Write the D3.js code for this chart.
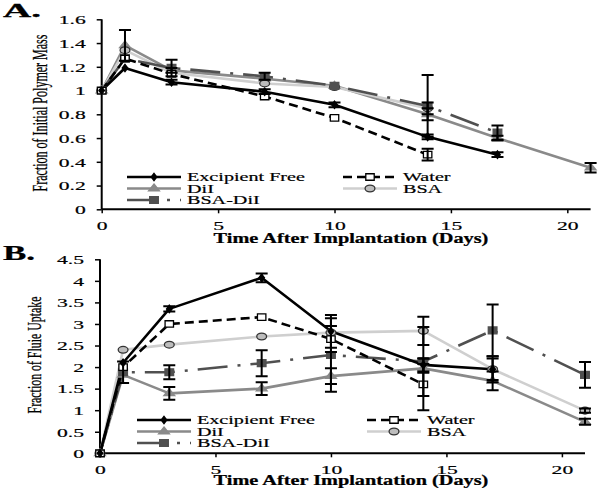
<!DOCTYPE html>
<html><head><meta charset="utf-8">
<script src="https://cdn.jsdelivr.net/npm/d3@7"></script>
<style>body{margin:0;background:#fff}svg{display:block}text{font-family:"Liberation Serif","Times New Roman",serif;fill:#000}</style>
</head><body><svg id="c" width="600" height="488"></svg>
<script>
// ---------- DATA ----------
const seriesNames = ["Excipient Free","Water","DiI","BSA","BSA-DiI"];
const xTicks = [0,5,10,15,20];
const yTicksA = [0,0.2,0.4,0.6,0.8,1,1.2,1.4,1.6];
const yTicksB = [0,0.5,1,1.5,2,2.5,3,3.5,4,4.5];

// Panel A: Fraction of Initial Polymer Mass
const aDaysEF = [0,1,3,7,10,14,17];
const aValEF  = [1.0,1.19,1.07,0.99,0.88,0.61,0.46];
const aErrEF  = [0,0,0.02,0.02,0.02,0.02,0.02];
const aDaysW  = [0,1,3,7,10,14];
const aValW   = [1.0,1.27,1.14,0.95,0.77,0.46];
const aErrW   = [0,0,0,0,0,0.05];
const aDaysD  = [0,1,3,7,10,14,17,21];
const aValD   = [1.0,1.38,1.17,1.10,1.04,0.80,0.60,0.35];
const aErrD   = [0,0.13,0.02,0,0,0.05,0.02,0.04];
const aDaysB  = [0,1,3,7,10,14];
const aValB   = [1.0,1.34,1.15,1.06,1.03,0.85];
const aErrB   = [0,0,0,0,0,0.05];
const aDaysBD = [0,1,3,7,10,14,17];
const aValBD  = [1.0,1.27,1.19,1.12,1.04,0.87,0.645];
const aErrBD  = [0,0,0.07,0.03,0,0.26,0.06];

// Panel B: Fraction of Fluie Uptake
const bDaysEF = [0,1,3,7,10,14,17];
const bValEF  = [0,2.1,3.35,4.07,2.83,2.05,1.95];
const bErrEF  = [0,0,0.06,0.1,0.38,0.15,0.25];
const bDaysW  = [0,1,3,7,10,14];
const bValW   = [0,2.0,3.0,3.16,2.65,1.6];
const bErrW   = [0,0,0,0,0.3,0.6];
const bDaysD  = [0,1,3,7,10,14,17,21];
const bValD   = [0,1.82,1.39,1.5,1.79,1.97,1.68,0.73];
const bErrD   = [0,0,0.15,0.15,0.18,0.1,0.22,0.07];
const bDaysB  = [0,1,3,7,10,14,17,21];
const bValB   = [0,2.4,2.52,2.71,2.8,2.84,1.95,0.99];
const bErrB   = [0,0,0,0,0,0.33,0.3,0.05];
const bDaysBD = [0,1,3,7,10,14,17,21];
const bValBD  = [0,1.88,1.88,2.09,2.28,2.13,2.85,1.82];
const bErrBD  = [0,0.25,0.16,0.3,0.85,0.8,0.6,0.3];

// ---------- STYLES ----------
const style = {
  "Excipient Free": {color:"#000", dash:null, marker:"diamond", fill:"#000", stroke:"#000", size:16, sx:1.3},
  "Water":          {color:"#000", dash:"9,5", marker:"square", fill:"#fff", stroke:"#000", size:42, sx:1.3},
  "DiI":            {color:"#8a8a8a", dash:null, marker:"triangle", fill:"#8a8a8a", stroke:"#8a8a8a", size:26, sx:1.4},
  "BSA":            {color:"#cfcfcf", dash:null, marker:"circle", fill:"#bdbdbd", stroke:"#333", size:36, sx:1.45},
  "BSA-DiI":        {color:"#505050", dash:"30,10,3,10", marker:"square", fill:"#505050", stroke:"#505050", size:48, sx:1.25}
};
const symType = {diamond:d3.symbolDiamond, square:d3.symbolSquare, triangle:d3.symbolTriangle, circle:d3.symbolCircle};
const drawOrder = ["DiI","BSA","BSA-DiI","Water","Excipient Free"];

const svg = d3.select("#c");
const TS = 1.6;  // horizontal stretch of tick labels
const LS = 1.55; // horizontal stretch of legend text

function fitText(g, str, opts){
  const t = g.append("text").attr("x",0).attr("y",0).attr("font-size",opts.size)
    .attr("font-weight",opts.weight||"normal").attr("text-anchor",opts.anchor||"start")
    .attr("stroke","#000").attr("stroke-width",opts.sw||0.25).text(str);
  const w = t.node().getComputedTextLength();
  const s = opts.len / w;
  t.attr("transform",`translate(${opts.x},${opts.y}) rotate(${opts.rot||0}) scale(${s},1)`);
  return t;
}

function panel(cfg){
  const g = svg.append("g");
  const x = d3.scaleLinear().domain([0,21]).range(cfg.xr);
  const y = d3.scaleLinear().domain(cfg.yd).range(cfg.yr);

  const ya = g.append("g").attr("transform",`translate(${cfg.xr[0]},0)`)
    .call(d3.axisLeft(y).tickValues(cfg.yTicks).tickSize(5).tickPadding(11)
      .tickFormat(d=>String(+d.toFixed(1))));
  const xa = g.append("g").attr("transform",`translate(0,${cfg.yr[0]})`)
    .call(d3.axisBottom(x).tickValues(xTicks).tickSize(4).tickPadding(7));
  [ya,xa].forEach(a=>{
    a.select(".domain").attr("stroke","#000").attr("stroke-width",2);
    a.selectAll(".tick line").attr("stroke","#000").attr("stroke-width",1.5);
    a.selectAll(".tick text").attr("font-size",13.5).attr("font-family","Liberation Serif").attr("fill","#000")
      .attr("stroke","#000").attr("stroke-width",0.2)
      .each(function(){const t=d3.select(this);const xx=+t.attr("x")||0;t.attr("x",xx/TS).attr("transform",`scale(${TS},1)`);});
  });
  xa.select(".domain").attr("d",`M${cfg.xr[0]},0H${cfg.xr[1]}`);
  ya.select(".domain").attr("d",`M0,${cfg.yr[0]}V${cfg.yr[1]}`);

  const line = d3.line().x(d=>x(d[0])).y(d=>y(d[1]));
  const data = cfg.series;
  drawOrder.forEach(n=>{
    const s=data[n], st=style[n];
    const pts = s.days.map((d,i)=>[d,s.vals[i]]);
    g.append("path").attr("d",line(pts)).attr("fill","none").attr("stroke",st.color)
      .attr("stroke-width",2.6).attr("stroke-dasharray",st.dash).attr("stroke-linejoin","round");
  });
  drawOrder.forEach(n=>{
    const s=data[n], st=style[n];
    const sym = d3.symbol().type(symType[st.marker]).size(st.size);
    s.days.forEach((d,i)=>{
      g.append("path").attr("d",sym()).attr("transform",`translate(${x(d)},${y(s.vals[i])}) scale(${st.sx},1)`)
        .attr("fill",st.fill).attr("stroke",st.stroke).attr("stroke-width",1.3).attr("vector-effect","non-scaling-stroke");
    });
  });
  drawOrder.forEach(n=>{
    const s=data[n];
    s.days.forEach((d,i)=>{
      const e=s.errs[i]; if(!e) return;
      const cx=x(d), y1=y(s.vals[i]+e), y2=y(s.vals[i]-e);
      g.append("path").attr("d",`M${cx},${y1}V${y2}M${cx-6},${y1}H${cx+6}M${cx-6},${y2}H${cx+6}`)
        .attr("stroke","#000").attr("stroke-width",2).attr("fill","none");
    });
  });
  const leg = [
    ["Excipient Free", cfg.lc1, cfg.lr[0]],
    ["Water", cfg.lc2, cfg.lr[0]],
    ["DiI", cfg.lc1, cfg.lr[1]],
    ["BSA", cfg.lc2, cfg.lr[1]],
    ["BSA-DiI", cfg.lc1, cfg.lr[2]]
  ];
  leg.forEach(([n,x0,yy])=>{
    const st=style[n];
    g.append("line").attr("x1",x0).attr("x2",x0+54).attr("y1",yy).attr("y2",yy)
      .attr("stroke",st.color).attr("stroke-width",2.6).attr("stroke-dasharray",st.dash);
    g.append("path").attr("d",d3.symbol().type(symType[st.marker]).size(st.size)())
      .attr("transform",`translate(${x0+27},${yy}) scale(${st.sx},1)`)
      .attr("fill",st.fill).attr("stroke",st.stroke).attr("stroke-width",1.3).attr("vector-effect","non-scaling-stroke");
    g.append("text").attr("x",(x0+60)/LS).attr("y",yy+4.5).attr("transform",`scale(${LS},1)`)
      .attr("font-size",13).attr("stroke","#000").attr("stroke-width",0.2).text(n);
  });
  fitText(g,"Time After Implantation (Days)",{x:351,y:cfg.xtY,size:14,weight:"bold",anchor:"middle",len:275});
  fitText(g,cfg.ytitle,{x:cfg.ytX,y:cfg.ytY,size:cfg.ytSize,anchor:"middle",len:cfg.ytLen,rot:-90,sw:0.3});
  fitText(g,cfg.label,{x:3,y:cfg.lblY,size:cfg.lblSize,weight:"bold",len:cfg.lblLen});
}

panel({
  xr:[101.7,590.6], yd:[0,1.6], yr:[209.3,19.3], yTicks:yTicksA,
  series:{
    "Excipient Free":{days:aDaysEF,vals:aValEF,errs:aErrEF},
    "Water":{days:aDaysW,vals:aValW,errs:aErrW},
    "DiI":{days:aDaysD,vals:aValD,errs:aErrD},
    "BSA":{days:aDaysB,vals:aValB,errs:aErrB},
    "BSA-DiI":{days:aDaysBD,vals:aValBD,errs:aErrBD}
  },
  lc1:127, lc2:343, lr:[177,188.5,200], xtY:243,
  ytitle:"Fraction of Initial Polymer Mass", ytX:47, ytY:113, ytLen:157, ytSize:21,
  label:"A.", lblY:17, lblSize:18, lblLen:38
});
panel({
  xr:[100,585], yd:[0,4.5], yr:[453.3,259.3], yTicks:yTicksB,
  series:{
    "Excipient Free":{days:bDaysEF,vals:bValEF,errs:bErrEF},
    "Water":{days:bDaysW,vals:bValW,errs:bErrW},
    "DiI":{days:bDaysD,vals:bValD,errs:bErrD},
    "BSA":{days:bDaysB,vals:bValB,errs:bErrB},
    "BSA-DiI":{days:bDaysBD,vals:bValBD,errs:bErrBD}
  },
  lc1:137, lc2:367, lr:[420,431.5,443], xtY:485,
  ytitle:"Fraction of Fluie Uptake", ytX:41, ytY:355, ytLen:117, ytSize:19,
  label:"B.", lblY:260, lblSize:20, lblLen:32
});
</script></body></html>
